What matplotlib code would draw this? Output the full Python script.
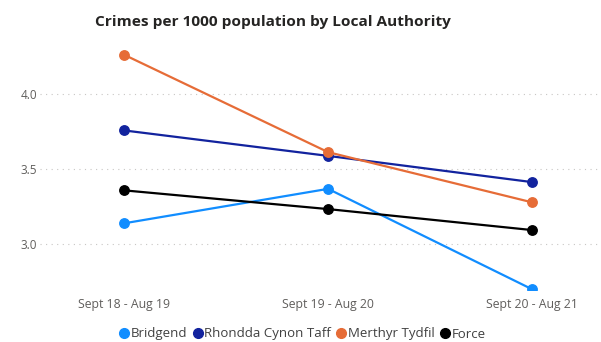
import matplotlib.pyplot as plt

plt.rcParams['font.family'] = ['Open Sans', 'DejaVu Sans']

periods = ['Sept 18 - Aug 19', 'Sept 19 - Aug 20', 'Sept 20 - Aug 21']
bridgend = [3.14, 3.37, 2.70]
rhondda = [3.76, 3.59, 3.415]
merthyr = [4.265, 3.615, 3.28]
force = [3.36, 3.235, 3.095]

series = [
    ('Bridgend', bridgend, '#118DFF'),
    ('Rhondda Cynon Taff', rhondda, '#12239E'),
    ('Merthyr Tydfil', merthyr, '#E66C37'),
    ('Force', force, '#000000'),
]

fig = plt.figure(figsize=(6.01, 3.42), dpi=100)
ax = fig.add_axes([40 / 601, 52 / 342, 560 / 601, 245 / 342])

x = list(range(len(periods)))
for name, vals, col in series:
    ax.plot(x, vals, color=col, linewidth=1.6, marker='o', markersize=6.8,
            label=name, clip_on=True)

ax.set_xlim(-0.412, 2.333)
ax.set_ylim(2.695, 4.33)
ax.set_xticks(x)
ax.set_xticklabels(periods)
ax.set_yticks([3.0, 3.5, 4.0])
ax.set_yticklabels(['3.0', '3.5', '4.0'])
ax.tick_params(length=0, colors='#605E5C', labelsize=8.5)
ax.tick_params(axis='x', pad=6, labelsize=8.8)
ax.tick_params(axis='y', pad=2)
ax.grid(axis='y', color='#C8C6C4', linestyle=(0, (1, 4)), linewidth=0.8)
for s in ax.spines.values():
    s.set_visible(False)

fig.text(273 / 601, 1 - 22 / 342, 'Crimes per 1000 population by Local Authority',
         ha='center', va='center', fontsize=11.1, fontweight='bold', color='#252423')

leg = fig.legend(loc='center', bbox_to_anchor=(303 / 601, 1 - 334 / 342), ncol=4,
                 frameon=False, fontsize=9.5, handlelength=0.6, handletextpad=0.2,
                 columnspacing=0.5, labelcolor='#404040')
for h in leg.legend_handles:
    h.set_linestyle('none')
    h.set_marker('o')
    h.set_markersize(7)

fig.savefig('out.png', dpi=100)
